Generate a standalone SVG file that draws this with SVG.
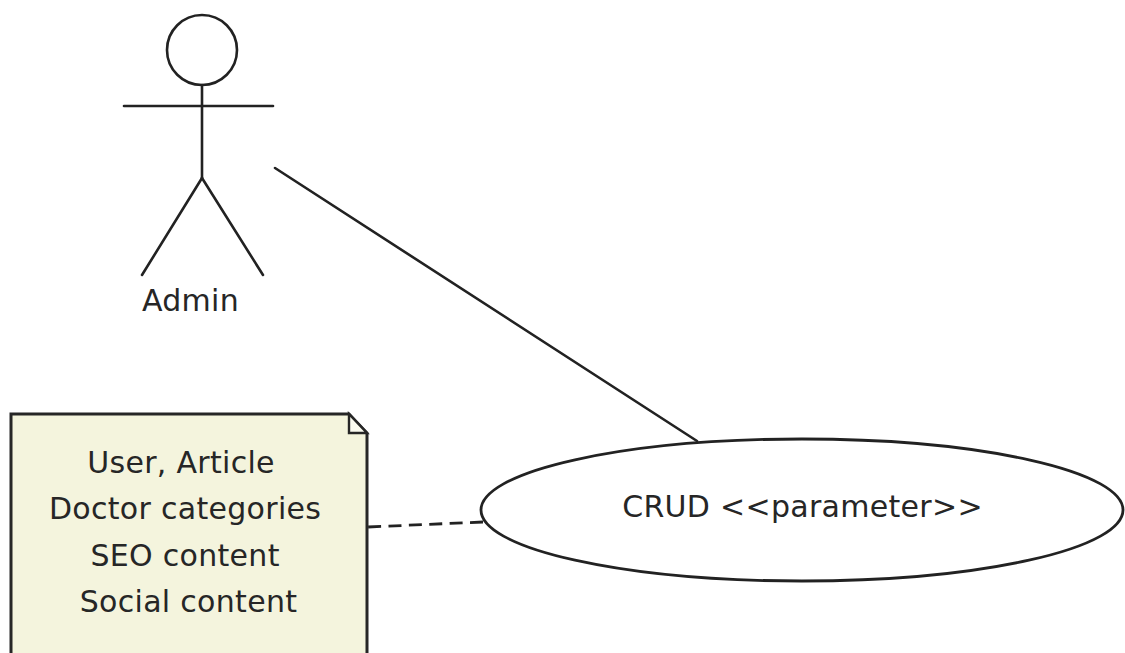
<svg xmlns="http://www.w3.org/2000/svg" width="1125" height="653" viewBox="0 0 1125 653">
  <style>
    .ln { fill: none; stroke: #222; stroke-width: 2.6; stroke-linecap: round; }
    .txt { font-family: "DejaVu Sans", Verdana, sans-serif; font-size: 30px; letter-spacing: 0.3px; fill: #262626; }
    .note { fill: #f4f4dd; stroke: #262626; stroke-width: 3; stroke-linejoin: miter; }
  </style>
  <rect width="1125" height="653" fill="#ffffff"/>

  <!-- connectors -->
  <g id="connectors">
    <line class="ln" x1="275" y1="168" x2="697" y2="441"/>
    <!-- dashed anchor from the note to the use case: six dashes, one at each end -->
    <line x1="483" y1="522" x2="368" y2="527" stroke="#222" stroke-width="2.8" stroke-dasharray="13 7.4"/>
  </g>

  <!-- actor -->
  <g id="actor-admin">
    <circle class="ln" cx="202" cy="50" r="35"/>
    <line class="ln" x1="202" y1="85" x2="202" y2="178"/>
    <line class="ln" x1="124" y1="106" x2="273" y2="106"/>
    <line class="ln" x1="202" y1="178" x2="142" y2="275"/>
    <line class="ln" x1="202" y1="178" x2="263" y2="275"/>
    <text class="txt" x="190.5" y="311" text-anchor="middle">Admin</text>
  </g>

  <!-- note -->
  <g id="note-entities">
    <path class="note" d="M11 414 H349 L367 433 V660 H11 Z"/>
    <path d="M349 414 V433 H367 Z" fill="#fbfbf0" stroke="#262626" stroke-width="2.4" stroke-linejoin="miter"/>
    <text class="txt" text-anchor="middle">
      <tspan x="186" y="473">User, Article</tspan>
      <tspan x="190" y="519">Doctor categories</tspan>
      <tspan x="190" y="566">SEO content</tspan>
      <tspan x="188.5" y="612">Social content</tspan>
    </text>
  </g>

  <!-- use case -->
  <g id="usecase-crud">
    <ellipse cx="802" cy="510" rx="321" ry="71" fill="#ffffff" stroke="#222" stroke-width="2.8"/>
    <text class="txt" x="802.5" y="517" text-anchor="middle">CRUD &lt;&lt;parameter&gt;&gt;</text>
  </g>
</svg>
